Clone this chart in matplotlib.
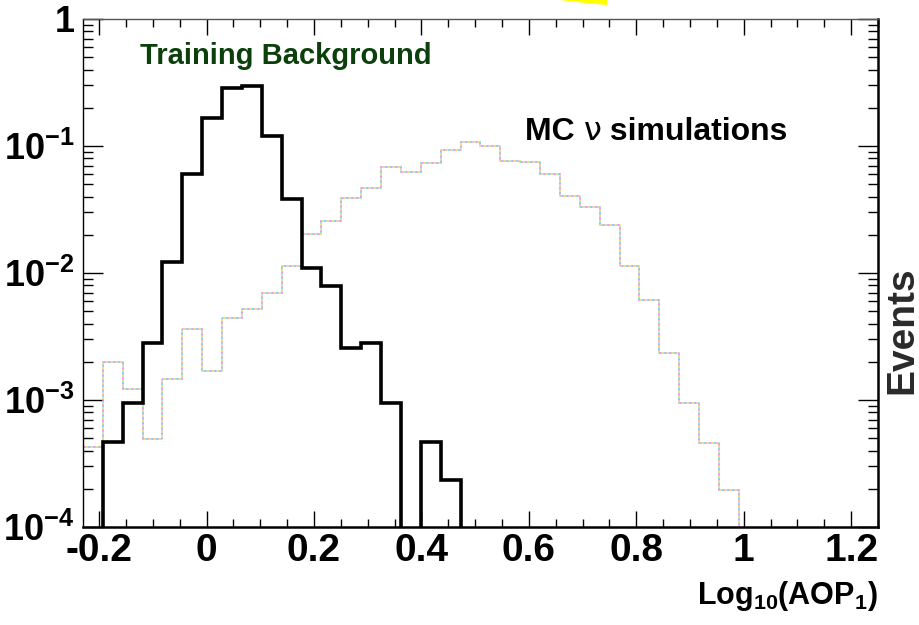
import numpy as np
import matplotlib
matplotlib.use("Agg")
import matplotlib.pyplot as plt
from matplotlib.ticker import FixedLocator, FixedFormatter, LogLocator, NullFormatter
from matplotlib.patches import Polygon

plt.rcParams['font.family'] = ['Liberation Sans', 'DejaVu Sans']
plt.rcParams['mathtext.fontset'] = 'custom'
plt.rcParams['mathtext.bf'] = 'Liberation Sans:bold'
plt.rcParams['mathtext.rm'] = 'Liberation Sans:bold'
plt.rcParams['mathtext.it'] = 'Liberation Sans:bold'
plt.rcParams['axes.unicode_minus'] = False

# ---- data ----
x_min, x_max, n_bins = -0.23, 1.25, 40
training_background = [0, 4.7e-4, 9.4e-4, 2.83e-3, 0.0121, 0.060, 0.167, 0.284, 0.295, 0.120,
                       0.0383, 0.0110, 0.00794, 2.58e-3, 2.83e-3, 9.5e-4, 0, 4.7e-4, 2.34e-4, 0,
                       0, 0, 0, 0, 0, 0, 0, 0, 0, 0,
                       0, 0, 0, 0, 0, 0, 0, 0, 0, 0]
mc_nu = [4.3e-4, 2.0e-3, 1.22e-3, 4.9e-4, 1.46e-3, 3.6e-3, 1.70e-3, 4.4e-3, 5.2e-3, 6.9e-3,
         0.01143, 0.0202, 0.0257, 0.0387, 0.0464, 0.0687, 0.0621, 0.0731, 0.093, 0.108,
         0.100, 0.0762, 0.075, 0.0603, 0.0404, 0.0333, 0.0239, 0.01143, 6.18e-3, 2.33e-3,
         9.4e-4, 4.6e-4, 1.95e-4, 0, 0, 0, 0, 0, 0, 0]
x_ticks = [-0.2, 0, 0.2, 0.4, 0.6, 0.8, 1.0, 1.2]
x_tick_labels = ['-0.2', '0', '0.2', '0.4', '0.6', '0.8', '1', '1.2']
y_ticks = [1e-4, 1e-3, 1e-2, 1e-1, 1]
y_tick_labels = [r'$\mathbf{10^{-4}}$', r'$\mathbf{10^{-3}}$', r'$\mathbf{10^{-2}}$',
                 r'$\mathbf{10^{-1}}$', '1']

W, H = 920, 625
fig = plt.figure(figsize=(W / 100, H / 100), dpi=100)
ax = fig.add_axes([83 / W, 1 - 527 / H, (878 - 83) / W, (527 - 19) / H])

edges = np.linspace(x_min, x_max, n_bins + 1)
floor = 1e-6
tb = np.where(np.array(training_background) > 0, training_background, floor)
mc = np.where(np.array(mc_nu) > 0, mc_nu, floor)

# MC dotted, multicolour
for off, col in [(0, '#f080f0'), (1, '#70dcf0'), (2, '#ecdc50')]:
    ax.stairs(mc, edges, baseline=floor, color=col, lw=1.2,
              linestyle=(off, (1, 2)), zorder=2)
ax.stairs(tb, edges, baseline=floor, color='black', lw=2.6, zorder=3)

ax.set_yscale('log')
ax.set_xlim(x_min, x_max)
ax.set_ylim(1e-4, 1)

ax.xaxis.set_major_locator(FixedLocator(x_ticks))
ax.xaxis.set_major_formatter(FixedFormatter(x_tick_labels))
ax.xaxis.set_minor_locator(FixedLocator(np.arange(-0.2, 1.2501, 0.05)))
ax.yaxis.set_major_locator(FixedLocator(y_ticks))
ax.yaxis.set_major_formatter(FixedFormatter(y_tick_labels))
ax.yaxis.set_minor_locator(LogLocator(base=10, subs=np.arange(2, 10)))
ax.yaxis.set_minor_formatter(NullFormatter())

ax.tick_params(axis='x', which='major', direction='in', length=11.5, width=1.0,
               top=True, bottom=True, labelsize=28, pad=4)
ax.tick_params(axis='x', which='minor', direction='in', length=5.8, width=1.0,
               top=True, bottom=True)
ax.tick_params(axis='y', which='major', direction='in', length=14.5, width=1.0,
               left=True, right=True, labelsize=26, pad=6)
ax.tick_params(axis='y', which='minor', direction='in', length=7.5, width=1.0,
               left=True, right=True)
for lab in ax.get_xticklabels() + ax.get_yticklabels():
    lab.set_fontweight('bold')

ax.spines['left'].set_linewidth(1.0)
ax.spines['top'].set_linewidth(1.0)
ax.spines['top'].set_color('#555555')
ax.spines['right'].set_linewidth(1.8)
ax.spines['bottom'].set_linewidth(1.8)

# texts
fig.text(140 / W, 1 - 64 / H, 'Training Background', color='#0b3f0b',
         fontsize=21, fontweight='bold', va='baseline', ha='left')
t1 = fig.text(525 / W, 1 - 140 / H, 'MC ', fontsize=23, fontweight='bold',
              va='baseline', ha='left')
t2 = ax.annotate('\u03bd', xy=(1, 0), xycoords=t1, fontsize=23, fontweight='normal',
                 va='bottom', ha='left', family=['DejaVu Sans'])
ax.annotate(' simulations', xy=(1, 0), xycoords=t2, fontsize=23, fontweight='bold',
            va='bottom', ha='left')

fig.text(878 / W, 1 - 604 / H, r'$\mathbf{Log_{10}(AOP_{1})}$', fontsize=22,
         ha='right', va='baseline')
fig.text(902 / W, 1 - 330 / H, 'Events', rotation=90, fontsize=28,
         fontweight='bold', color='#2a2a2a', ha='center', va='center')

# yellow arrow fragment at top
fig.patches.append(Polygon([[560 / W, 1.0], [607 / W, 1.0], [607 / W, 1 - 5 / H],
                            [585 / W, 1 - 3 / H]], closed=True, transform=fig.transFigure,
                           facecolor='#ffff00', edgecolor='none'))

fig.savefig('out.png', dpi=100)
